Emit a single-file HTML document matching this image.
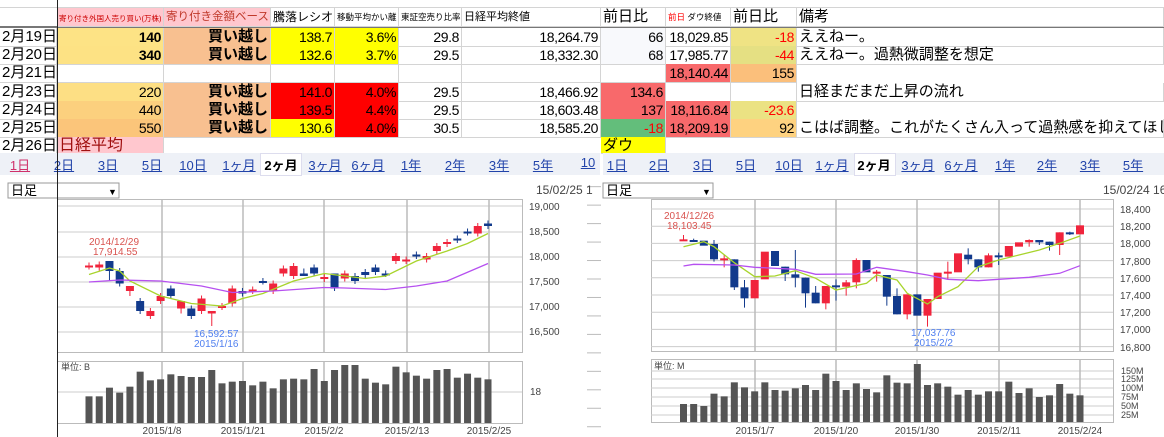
<!DOCTYPE html>
<html><head><meta charset="utf-8">
<style>
*{margin:0;padding:0;box-sizing:border-box}
body{width:1164px;height:437px;overflow:hidden;background:#fff;position:relative;font-family:"Liberation Sans","Noto Sans CJK JP",sans-serif;color:#000}
.c{position:absolute;height:19px;border-right:1px solid #d4d4d4;border-bottom:1px solid #d4d4d4;font-size:15px;line-height:18px;white-space:nowrap;overflow:hidden;padding:0 2px}
.r{text-align:right}
.n{font-size:14px;letter-spacing:-0.4px}
.b{font-weight:bold}
.red{color:#f00}
.tab{position:absolute;top:155px;font-size:13px;color:#2244aa;text-decoration:underline;transform:translateX(-50%)}
</style></head><body>
<div style="position:absolute;left:0;top:0;width:1164px;height:8px;border-bottom:1px solid #d4d4d4"></div>
<div style="position:absolute;left:0;top:26px;width:1164px;height:2px;background:#777"></div>

<!-- header row -->
<div class="c" style="left:57px;top:8px;width:107px;background:#ffc7ce;color:#c00;font-size:7.5px;padding-top:2px">寄り付き外国人売り買い(万株)</div>
<div class="c" style="left:164px;top:8px;width:107px;background:#ffc7ce;color:#c0392b;font-size:11.5px">寄り付き金額ベース</div>
<div class="c" style="left:271px;top:8px;width:64px;font-size:12px">騰落レシオ</div>
<div class="c" style="left:335px;top:8px;width:64px;font-size:8.5px">移動平均かい離</div>
<div class="c" style="left:399px;top:8px;width:63px;font-size:8.5px">東証空売り比率</div>
<div class="c" style="left:462px;top:8px;width:139px;font-size:11px">日経平均終値</div>
<div class="c" style="left:601px;top:8px;width:65px;font-size:15px">前日比</div>
<div class="c" style="left:666px;top:8px;width:65px;font-size:8.5px"><span style="color:#f00">前日</span> ダウ終値</div>
<div class="c" style="left:731px;top:8px;width:66px;font-size:15px">前日比</div>
<div class="c" style="left:797px;top:8px;width:367px;font-size:15px">備考</div>

<!-- row 2/19 -->
<div class="c" style="left:0;top:28px;width:57px">2月19日</div>
<div class="c r b n" style="left:57px;top:28px;width:107px;background:#fde385">140</div>
<div class="c r b" style="left:164px;top:28px;width:107px;background:#f8c090">買い越し</div>
<div class="c r n" style="left:271px;top:28px;width:64px;background:#ff0">138.7</div>
<div class="c r n" style="left:335px;top:28px;width:64px;background:#ff0">3.6%</div>
<div class="c r n" style="left:399px;top:28px;width:63px">29.8</div>
<div class="c r n" style="left:462px;top:28px;width:139px">18,264.79</div>
<div class="c r n" style="left:601px;top:28px;width:65px;background:#f8f9fc">66</div>
<div class="c r n" style="left:666px;top:28px;width:65px">18,029.85</div>
<div class="c r red n" style="left:731px;top:28px;width:66px;background:#efe384">-18</div>
<div class="c" style="left:797px;top:28px;width:367px">ええねー。</div>

<!-- row 2/20 -->
<div class="c" style="left:0;top:46px;width:57px">2月20日</div>
<div class="c r b n" style="left:57px;top:46px;width:107px;background:#fde284">340</div>
<div class="c r b" style="left:164px;top:46px;width:107px;background:#f8c090">買い越し</div>
<div class="c r n" style="left:271px;top:46px;width:64px;background:#ff0">132.6</div>
<div class="c r n" style="left:335px;top:46px;width:64px;background:#ff0">3.7%</div>
<div class="c r n" style="left:399px;top:46px;width:63px">29.5</div>
<div class="c r n" style="left:462px;top:46px;width:139px">18,332.30</div>
<div class="c r n" style="left:601px;top:46px;width:65px;background:#f8f9fc">68</div>
<div class="c r n" style="left:666px;top:46px;width:65px">17,985.77</div>
<div class="c r red n" style="left:731px;top:46px;width:66px;background:#e5e083">-44</div>
<div class="c" style="left:797px;top:46px;width:367px">ええねー。過熱微調整を想定</div>

<!-- row 2/21 -->
<div class="c" style="left:0;top:64px;width:57px">2月21日</div>
<div class="c" style="left:57px;top:64px;width:107px"></div>
<div class="c" style="left:164px;top:64px;width:107px"></div>
<div class="c" style="left:271px;top:64px;width:64px"></div>
<div class="c" style="left:335px;top:64px;width:64px"></div>
<div class="c" style="left:399px;top:64px;width:63px"></div>
<div class="c" style="left:462px;top:64px;width:139px"></div>
<div class="c" style="left:601px;top:64px;width:65px"></div>
<div class="c r n" style="left:666px;top:64px;width:65px;background:#f8696b">18,140.44</div>
<div class="c r n" style="left:731px;top:64px;width:66px;background:#fbbf7b">155</div>

<!-- row 2/23 -->
<div class="c" style="left:0;top:83px;width:57px">2月23日</div>
<div class="c r n" style="left:57px;top:83px;width:107px;background:#fddf84">220</div>
<div class="c r b" style="left:164px;top:83px;width:107px;background:#f8c090">買い越し</div>
<div class="c r n" style="left:271px;top:83px;width:64px;background:#f00">141.0</div>
<div class="c r n" style="left:335px;top:83px;width:64px;background:#f00">4.0%</div>
<div class="c r n" style="left:399px;top:83px;width:63px">29.5</div>
<div class="c r n" style="left:462px;top:83px;width:139px">18,466.92</div>
<div class="c r n" style="left:601px;top:83px;width:65px;background:#f8696b">134.6</div>
<div class="c" style="left:666px;top:83px;width:65px"></div>
<div class="c" style="left:731px;top:83px;width:66px"></div>
<div class="c" style="left:797px;top:83px;width:367px">日経まだまだ上昇の流れ</div>

<!-- row 2/24 -->
<div class="c" style="left:0;top:101px;width:57px">2月24日</div>
<div class="c r n" style="left:57px;top:101px;width:107px;background:#fcd07e">440</div>
<div class="c r b" style="left:164px;top:101px;width:107px;background:#f8c090">買い越し</div>
<div class="c r n" style="left:271px;top:101px;width:64px;background:#f00">139.5</div>
<div class="c r n" style="left:335px;top:101px;width:64px;background:#f00">4.4%</div>
<div class="c r n" style="left:399px;top:101px;width:63px">29.5</div>
<div class="c r n" style="left:462px;top:101px;width:139px">18,603.48</div>
<div class="c r n" style="left:601px;top:101px;width:65px;background:#f8696b">137</div>
<div class="c r n" style="left:666px;top:101px;width:65px;background:#f8696b">18,116.84</div>
<div class="c r red n" style="left:731px;top:101px;width:66px;background:#ebe283">-23.6</div>

<!-- row 2/25 -->
<div class="c" style="left:0;top:119px;width:57px">2月25日</div>
<div class="c r n" style="left:57px;top:119px;width:107px;background:#fbc57a">550</div>
<div class="c r b" style="left:164px;top:119px;width:107px;background:#f8c090">買い越し</div>
<div class="c r n" style="left:271px;top:119px;width:64px;background:#ff0">130.6</div>
<div class="c r n" style="left:335px;top:119px;width:64px;background:#f00">4.0%</div>
<div class="c r n" style="left:399px;top:119px;width:63px">30.5</div>
<div class="c r n" style="left:462px;top:119px;width:139px">18,585.20</div>
<div class="c r red n" style="left:601px;top:119px;width:65px;background:#63be7b">-18</div>
<div class="c r n" style="left:666px;top:119px;width:65px;background:#f8696b">18,209.19</div>
<div class="c r n" style="left:731px;top:119px;width:66px;background:#fed280">92</div>
<div class="c" style="left:797px;top:119px;width:367px">こはば調整。これがたくさん入って過熱感を抑えてほし</div>

<!-- row 2/26 -->
<div class="c" style="left:0;top:137px;width:57px;height:17px">2月26日</div>
<div class="c" style="left:57px;top:137px;width:107px;height:17px;background:#ffc7ce;color:#a01010;font-size:16px">日経平均</div>
<div class="c" style="left:601px;top:137px;width:65px;height:17px;background:#ff0">ダウ</div>

<!-- tab bars -->
<div style="position:absolute;left:0;top:153px;width:600px;height:22px;background:#eef1f7"></div>
<div style="position:absolute;left:603px;top:153px;width:561px;height:22px;background:#eef1f7"></div>
<div style="position:absolute;left:260px;top:153px;width:42px;height:23px;background:#fff;border:1px solid #dde"></div>
<div style="position:absolute;left:854px;top:153px;width:42px;height:23px;background:#fff;border:1px solid #dde"></div>
<span class="tab" style="left:20px;color:#d0306a">1日</span>
<span class="tab" style="left:64px">2日</span>
<span class="tab" style="left:108px">3日</span>
<span class="tab" style="left:152px">5日</span>
<span class="tab" style="left:193px">10日</span>
<span class="tab" style="left:239px">1ヶ月</span>
<span class="tab" style="left:281px;color:#000;font-weight:bold;text-decoration:none">2ヶ月</span>
<span class="tab" style="left:325px">3ヶ月</span>
<span class="tab" style="left:368px">6ヶ月</span>
<span class="tab" style="left:411px">1年</span>
<span class="tab" style="left:455px">2年</span>
<span class="tab" style="left:499px">3年</span>
<span class="tab" style="left:543px">5年</span>
<span class="tab" style="left:588px">10</span>
<span class="tab" style="left:617px">1日</span>
<span class="tab" style="left:659px">2日</span>
<span class="tab" style="left:703px">3日</span>
<span class="tab" style="left:746px">5日</span>
<span class="tab" style="left:789px">10日</span>
<span class="tab" style="left:832px">1ヶ月</span>
<span class="tab" style="left:874px;color:#000;font-weight:bold;text-decoration:none">2ヶ月</span>
<span class="tab" style="left:918px">3ヶ月</span>
<span class="tab" style="left:961px">6ヶ月</span>
<span class="tab" style="left:1005px">1年</span>
<span class="tab" style="left:1047px">2年</span>
<span class="tab" style="left:1090px">3年</span>
<span class="tab" style="left:1133px">5年</span>

<svg id="ch" width="1164" height="437" style="position:absolute;left:0;top:0" font-family="Liberation Sans, Noto Sans CJK JP, sans-serif">
<g id="g"></g>
<rect x="8" y="183" width="111" height="15" fill="#fff" stroke="#999"/>
<text x="11" y="195" font-size="13">日足</text>
<text x="108" y="195" font-size="9">▼</text>
<text x="536" y="194" font-size="12" fill="#444">15/02/25 1</text>
<g font-size="10" fill="#444">
<text x="529" y="210">19,000</text><text x="529" y="235">18,500</text><text x="529" y="260">18,000</text>
<text x="529" y="285">17,500</text><text x="529" y="310">17,000</text><text x="529" y="335">16,500</text>
<text x="530" y="395">18</text>
<text x="61" y="370" font-size="9">単位: B</text>
<text x="162" y="434" text-anchor="middle">2015/1/8</text><text x="243" y="434" text-anchor="middle">2015/1/21</text>
<text x="324" y="434" text-anchor="middle">2015/2/2</text><text x="407" y="434" text-anchor="middle">2015/2/13</text>
<text x="489" y="434" text-anchor="middle">2015/2/25</text>
</g>
<text x="89" y="245" font-size="10" fill="#d9534f">2014/12/29</text>
<text x="93" y="255" font-size="10" fill="#d9534f">17,914.55</text>
<text x="194" y="337" font-size="10" fill="#4f7ff0">16,592.57</text>
<text x="194" y="347" font-size="10" fill="#4f7ff0">2015/1/16</text>
<rect x="603" y="183" width="110" height="15" fill="#fff" stroke="#999"/>
<text x="606" y="195" font-size="13">日足</text>
<text x="702" y="195" font-size="9">▼</text>
<text x="1103" y="194" font-size="12" fill="#444">15/02/24 16</text>
<g font-size="10" fill="#444">
<text x="1120" y="213">18,400</text><text x="1120" y="230">18,200</text><text x="1120" y="247">18,000</text>
<text x="1120" y="265">17,800</text><text x="1120" y="282">17,600</text><text x="1120" y="299">17,400</text>
<text x="1120" y="316">17,200</text><text x="1120" y="333">17,000</text><text x="1120" y="351">16,800</text>
<text x="1121" y="374" font-size="9">150M</text><text x="1121" y="382" font-size="9">125M</text>
<text x="1121" y="391" font-size="9">100M</text><text x="1121" y="400" font-size="9">75M</text>
<text x="1121" y="409" font-size="9">50M</text><text x="1121" y="418" font-size="9">25M</text>
<text x="654" y="369" font-size="9">単位: M</text>
<text x="755" y="434" text-anchor="middle">2015/1/7</text><text x="836" y="434" text-anchor="middle">2015/1/20</text>
<text x="917" y="434" text-anchor="middle">2015/1/30</text><text x="999" y="434" text-anchor="middle">2015/2/11</text>
<text x="1080" y="434" text-anchor="middle">2015/2/24</text>
</g>
<text x="664" y="219" font-size="10" fill="#d9534f">2014/12/26</text>
<text x="667" y="229" font-size="10" fill="#d9534f">18,103.45</text>
<text x="911" y="336" font-size="10" fill="#4f7ff0">17,037.76</text>
<text x="914" y="346" font-size="10" fill="#4f7ff0">2015/2/2</text>
<line x1="57.5" y1="0" x2="57.5" y2="437" stroke="#222" stroke-width="1"/>
</svg>
<script>
(function(){
var g=document.getElementById('g'),s='';
function R(x,y,w,h,f,st){s+='<rect x="'+x+'" y="'+y+'" width="'+w+'" height="'+h+'" fill="'+(f||'none')+'"'+(st?' stroke="'+st+'"':'')+'/>';}
function L(x1,y1,x2,y2,c,w){s+='<line x1="'+x1+'" y1="'+y1+'" x2="'+x2+'" y2="'+y2+'" stroke="'+c+'" stroke-width="'+(w||1)+'"/>';}
function P(pts,c){s+='<polyline points="'+pts.join(' ')+'" fill="none" stroke="'+c+'" stroke-width="1.3"/>';}
var RED='#f0243c',BLU='#123a8c';
R(57.5,199.5,465,153,'#fff','#bbb');
[206,232,257,282,307,332].forEach(function(y){L(57,y,522,y,'#ccc');});
[162,243,324,407,489].forEach(function(x){L(x,199,x,352,'#bbb',1.5);});
R(57.5,361.5,465,62,'#fff','#bbb');L(57,392,522,392,'#ccc');
[162,243,324,407,489].forEach(function(x){L(x,361,x,423,'#bbb',1.5);});
function yl(p){return 206+(19000-p)*0.05;}
var LC=[[17810,17790,1],[17830,17770,1],[17900,17700,0,17500],[17700,17450,0],[17400,17300,1,17200],[17100,16900,0],[16900,16800,1],[17200,17100,1],[17350,17200,0],[17100,16950,1,16850],[16950,16800,0],[17150,16900,1],[16900,16850,1,16600],[17000,16980,1],[17350,17050,1],[17300,17250,0],[17330,17300,1],[17500,17490,0],[17450,17300,1],[17750,17650,1],[17800,17600,1],[17650,17600,0,17750],[17770,17650,0],[17580,17540,1],[17650,17350,0,17300],[17650,17550,1],[17600,17500,0],[17680,17620,0],[17770,17680,0],[17650,17640,0],[18000,17900,1],[17930,17900,1],[18030,18000,0],[18000,17930,1],[18200,18100,1],[18280,18240,1],[18350,18320,0],[18490,18470,0],[18600,18450,1],[18650,18600,0]];
var LV=[649,649,623,638,620,575,601,598,583,588,591,591,570,610,605,603,616,605,625,598,596,598,567,603,570,555,555,596,608,613,560,577,587,596,570,567,593,581,593,598];
var x0=89,dx=(488-89)/39;
LV.forEach(function(v,i){var x=x0+i*dx,t=180+v/3;R(x-3.5,t,7,423-t,'#555');});
LC.forEach(function(c,i){var x=x0+i*dx,a=yl(c[0]),b=yl(c[1]),col=c[2]?RED:BLU;
 if(c[3]){L(x,Math.min(a,yl(c[3])),x,Math.max(b,yl(c[3])),col);} else L(x,a-3,x,b+3,col);
 R(x-4,a,8,Math.max(b-a,2),col);});
function mp(arr,f,x0,dx){return arr.map(function(p){return (x0+(p[0]-1)*dx).toFixed(1)+','+f(p[1]).toFixed(1);});}
P(mp([[1,17630],[3,17760],[4,17700],[5,17500],[8,17200],[11,17050],[14,17000],[16,17150],[18,17250],[21,17500],[24,17650],[26,17600],[28,17550],[30,17600],[33,17900],[36,18100],[38,18250],[40,18450]],yl,x0,dx),'#a8d42c');
P(mp([[1,17480],[4,17520],[8,17500],[12,17400],[15,17270],[19,17300],[24,17370],[26,17360],[30,17330],[33,17400],[36,17500],[40,17850]],yl,x0,dx),'#b650f0');
R(651.5,199.5,462,152,'#fff','#bbb');
function yr(p){return 209+(18400-p)*0.086;}
for(var p=16800;p<=18400;p+=200)L(651,yr(p),1113,yr(p),'#ccc');
R(651.5,359.5,462,63,'#fff','#bbb');
[371,379,388,397,406,415].forEach(function(y){L(651,y,1113,y,'#ccc');});
[755,836,917,999,1080].forEach(function(x){L(x,199,x,351,'#bbb',1.5);L(x,359,x,422,'#bbb',1.5);});
var RV=[672,672,678,641,649,607,622,634,607,630,632,625,615,630,581,603,630,610,627,637,586,608,610,552,615,610,620,644,630,644,634,634,605,639,625,651,646,612,641,646];
var RC=[[178,183,1,165,183],[180,183,0,176,186],[182,197,0],[192,238,0,180,245],[235,238,1,225,262],[238,322,0,238,330],[322,355,0,300,383],[300,355,1],[215,298,1],[213,258,0],[260,283,0,260,303],[283,293,0,210,322],[293,340,0,293,383],[338,370,0,318,370],[318,370,1,318,388],[316,318,0,298,362],[307,320,1,300,347],[240,307,1,235,325],[240,277,0],[275,280,1,270,305],[285,350,0,285,377],[348,403,0,325,403],[343,403,1,343,418],[343,407,0],[357,407,1,357,440],[278,357,1],[275,280,1,245,297],[220,277,1],[224,238,0,205,253],[238,262,0,238,275],[226,262,1,220,262],[226,228,0,218,255],[198,230,1],[187,200,1],[180,187,1,178,200],[180,187,0,180,195],[185,195,0,185,212],[157,195,1,157,225],[157,160,0,155,165],[136,163,1]];
var rx0=683.5,rdx=(1080-683.5)/39;
RV.forEach(function(v,i){var x=rx0+i*rdx,t=180+v/3;R(x-3.5,t,7,422-t,'#555');});
RC.forEach(function(c,i){var x=rx0+i*rdx,a=180+c[0]/3,b=180+c[1]/3,col=c[2]?RED:BLU;
 if(c[3])L(x,180+c[3]/3,x,180+c[4]/3,col);
 R(x-4,a,8,Math.max(b-a,2),col);});
function yi(v){return 180+v/3;}
P(mp([[1,200],[3,185],[4,200],[6,248],[8,290],[10,288],[12,272],[14,295],[16,330],[19,310],[20,285],[22,300],[23,340],[25,372],[26,350],[28,320],[30,260],[32,240],[34,225],[36,210],[38,190],[40,168]],yi,rx0,rdx),'#a8d42c');
P(mp([[1,258],[2,253],[6,255],[8,262],[12,268],[14,283],[18,282],[20,262],[23,275],[25,285],[27,298],[30,302],[32,298],[35,292],[38,280],[40,257]],yi,rx0,rdx),'#b650f0');
for(var k=0;k<14;k++){var yy=180+(20+k*55.4)/3;L(587,yy,601,yy,'#bbb');}
g.innerHTML=s;
})();
</script>
</body></html>
